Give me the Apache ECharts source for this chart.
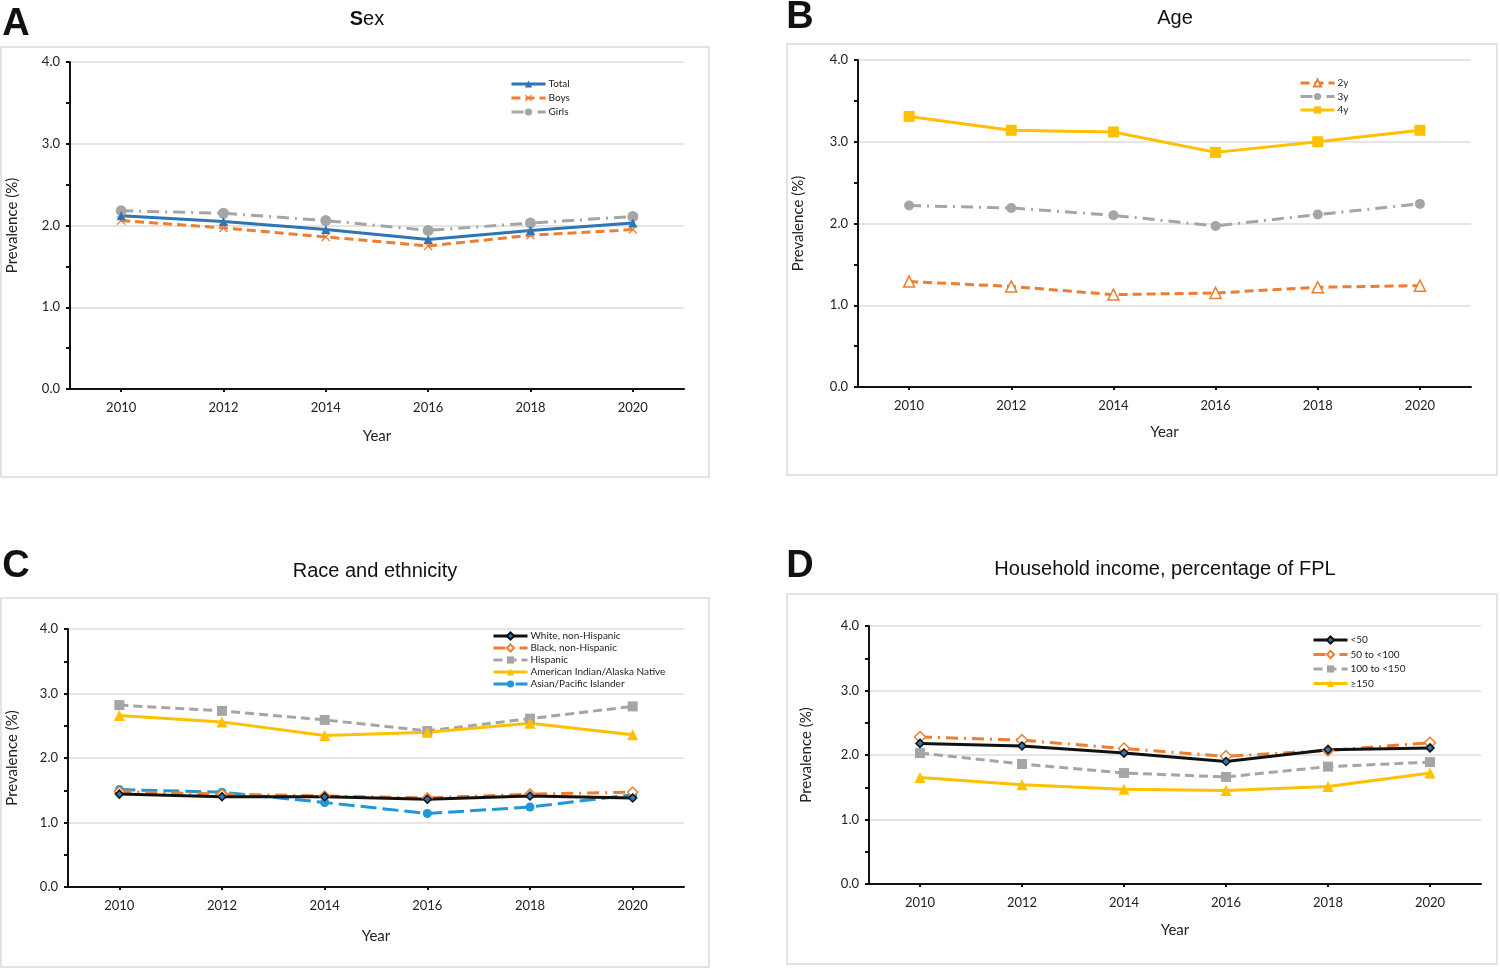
<!DOCTYPE html>
<html>
<head>
<meta charset="utf-8">
<script src="https://cdn.jsdelivr.net/npm/echarts@6/dist/echarts.min.js"></script>
<style>
html,body{margin:0;padding:0;background:#fff;}
#chart{width:1500px;height:968px;}
</style>
</head>
<body>
<div id="chart"></div>
<script>
// ---- data ----
var years = ['2010','2012','2014','2016','2018','2020'];
var yTicks = [0, 1, 2, 3, 4];

var sexTotal = [2.12, 2.05, 1.95, 1.83, 1.94, 2.03];
var sexBoys  = [2.06, 1.97, 1.86, 1.75, 1.88, 1.95];
var sexGirls = [2.18, 2.15, 2.06, 1.94, 2.03, 2.11];

var age2y = [1.29, 1.23, 1.13, 1.15, 1.22, 1.24];
var age3y = [2.22, 2.19, 2.10, 1.97, 2.11, 2.24];
var age4y = [3.31, 3.14, 3.12, 2.87, 3.00, 3.14];

var raceWhite    = [1.44, 1.40, 1.40, 1.36, 1.41, 1.38];
var raceBlack    = [1.48, 1.44, 1.41, 1.38, 1.44, 1.47];
var raceHispanic = [2.82, 2.73, 2.59, 2.42, 2.61, 2.80];
var raceAIAN     = [2.66, 2.56, 2.35, 2.40, 2.54, 2.36];
var raceAsian    = [1.51, 1.47, 1.31, 1.14, 1.24, 1.43];

var incLt50     = [2.18, 2.14, 2.03, 1.90, 2.08, 2.11];
var inc50to100  = [2.28, 2.23, 2.10, 1.98, 2.07, 2.19];
var inc100to150 = [2.03, 1.86, 1.72, 1.66, 1.82, 1.89];
var incGe150    = [1.65, 1.54, 1.47, 1.45, 1.51, 1.72];

// ---- styling ----
var ORANGE = '#ED7D31', GRAY = '#A5A5A5', GOLD = '#FFC000', BLUE = '#2E75B6', LBLUE = '#1F97D8', BLACK = '#111111';
var DASH = [9, 5];
var DASHDOT = [12, 6, 2, 6];
var LONGDASH = [16, 6];
var XSYM = 'path://M0,1L1,0L5,4L9,0L10,1L6,5L10,9L9,10L5,6L1,10L0,9L4,5Z';
var tickFont = 'Lato';

var grids = [
  {left: 70, top: 62, width: 614, height: 327},
  {left: 858, top: 60, width: 613, height: 327},
  {left: 68, top: 629, width: 616, height: 258},
  {left: 869, top: 626, width: 612, height: 258}
];
var yNameGap = [50, 52, 48, 55];
var xNameGap = [40, 38, 42, 39];

var xAxes = [], yAxes = [];
grids.forEach(function (g, i) {
  xAxes.push({
    type: 'category', gridIndex: i, data: years, boundaryGap: true,
    name: 'Year', nameLocation: 'middle', nameGap: xNameGap[i],
    nameTextStyle: {fontFamily: tickFont, fontSize: 15, color: '#222'},
    axisLine: {lineStyle: {color: '#111', width: 2}},
    axisTick: {show: true, alignWithLabel: true, length: 3, lineStyle: {color: '#111', width: 2}},
    axisLabel: {fontFamily: tickFont, fontSize: 13, color: '#222', margin: 12},
    splitLine: {show: false}
  });
  yAxes.push({
    type: 'value', gridIndex: i, min: yTicks[0], max: yTicks[yTicks.length - 1], interval: 1,
    name: 'Prevalence (%)', nameLocation: 'middle', nameGap: yNameGap[i],
    nameTextStyle: {fontFamily: tickFont, fontSize: 15, color: '#222'},
    axisLine: {show: true, lineStyle: {color: '#111', width: 2}},
    axisTick: {show: true, length: 4, lineStyle: {color: '#111', width: 2}},
    minorTick: {show: true, splitNumber: 2, length: 4, lineStyle: {color: '#111', width: 2}},
    minorSplitLine: {show: false},
    axisLabel: {fontFamily: tickFont, fontSize: 13, color: '#222', margin: 10,
      formatter: function (v) { return v.toFixed(1); }},
    splitLine: {show: true, lineStyle: {color: '#DDDDDD', width: 1.5}}
  });
});

function mk(name, data, idx, color, lineType, symbol, size, item) {
  return {
    type: 'line', name: name, data: data, xAxisIndex: idx, yAxisIndex: idx,
    symbol: symbol, symbolSize: size,
    lineStyle: {color: color, width: 3, type: lineType},
    itemStyle: item || {color: color},
    color: color,
    emphasis: {disabled: true}, animation: false
  };
}
var hollow = function (c) { return {color: '#fff', borderColor: c, borderWidth: 1.5}; };

var series = [
  mk('Boys', sexBoys, 0, ORANGE, DASH, XSYM, 9),
  mk('Girls', sexGirls, 0, GRAY, DASHDOT, 'circle', 11),
  mk('Total', sexTotal, 0, BLUE, 'solid', 'triangle', 9),

  mk('2y', age2y, 1, ORANGE, DASH, 'triangle', 11, hollow(ORANGE)),
  mk('3y', age3y, 1, GRAY, DASHDOT, 'circle', 10),
  mk('4y', age4y, 1, GOLD, 'solid', 'rect', 11),

  mk('Hispanic', raceHispanic, 2, GRAY, DASH, 'rect', 10),
  mk('American Indian/Alaska Native', raceAIAN, 2, GOLD, 'solid', 'triangle', 11),
  mk('Asian/Pacific Islander', raceAsian, 2, LBLUE, LONGDASH, 'circle', 9),
  mk('Black, non-Hispanic', raceBlack, 2, ORANGE, DASHDOT, 'diamond', 10, hollow(ORANGE)),
  mk('White, non-Hispanic', raceWhite, 2, BLACK, 'solid', 'diamond', 8, {color: BLUE, borderColor: '#111', borderWidth: 1.5}),

  mk('100 to <150', inc100to150, 3, GRAY, DASH, 'rect', 10),
  mk('\u2265150', incGe150, 3, GOLD, 'solid', 'triangle', 11),
  mk('50 to <100', inc50to100, 3, ORANGE, DASHDOT, 'diamond', 11, hollow(ORANGE)),
  mk('<50', incLt50, 3, BLACK, 'solid', 'diamond', 8, {color: BLUE, borderColor: '#111', borderWidth: 1.5})
];

function legend(names, left, top, gap) {
  return {
    orient: 'vertical', left: left, top: top, itemGap: gap, itemWidth: 34, itemHeight: 9,
    data: names, selectedMode: false,
    lineStyle: {width: 3},
    textStyle: {fontFamily: tickFont, fontSize: 10, color: '#222', padding: [0, 0, 0, -2]}
  };
}
var legends = [
  legend(['Total', 'Boys', 'Girls'], 505, 74, 4),
  legend(['2y', '3y', '4y'], 1294, 73, 3.5),
  legend(['White, non-Hispanic', 'Black, non-Hispanic', 'Hispanic', 'American Indian/Alaska Native', 'Asian/Pacific Islander'], 487, 626, 2),
  legend(['<50', '50 to <100', '100 to <150', '\u2265150'], 1307, 630, 4.5)
];

function box(x, y, w, h) {
  return {type: 'rect', silent: true, z: -1, shape: {x: x, y: y, width: w, height: h},
    style: {fill: 'none', stroke: '#DADADA', lineWidth: 1.5}};
}
function txt(x, y, t, font, extra) {
  var s = {text: t, x: x, y: y, font: font, fill: '#111', align: 'center', verticalAlign: 'middle'};
  if (extra) for (var k in extra) s[k] = extra[k];
  return {type: 'text', silent: true, style: s};
}
var TITLE_FONT = '20px "Liberation Sans", Arial, sans-serif';
var LETTER_FONT = 'bold 38px "Liberation Sans", Arial, sans-serif';

var graphics = [
  box(1, 47, 708, 430), box(787, 44, 710, 431), box(1, 598, 708, 369), box(787, 594, 710, 370),
  txt(16, 25, 'A', LETTER_FONT), txt(800, 18, 'B', LETTER_FONT),
  txt(16, 567, 'C', LETTER_FONT), txt(800, 567, 'D', LETTER_FONT),
  txt(367, 19, '{b|S}ex', TITLE_FONT, {rich: {b: {fontWeight: 'bold', fontSize: 20, fontFamily: '"Liberation Sans", Arial, sans-serif'}}}),
  txt(1175, 18, 'Age', TITLE_FONT),
  txt(375, 571, 'Race and ethnicity', TITLE_FONT),
  txt(1165, 569, 'Household income, percentage of FPL', TITLE_FONT)
];

var chart = echarts.init(document.getElementById('chart'), null, {renderer: 'canvas'});
chart.setOption({
  backgroundColor: '#fff',
  animation: false,
  grid: grids,
  xAxis: xAxes,
  yAxis: yAxes,
  legend: legends,
  series: series,
  graphic: graphics
});
</script>
</body>
</html>
